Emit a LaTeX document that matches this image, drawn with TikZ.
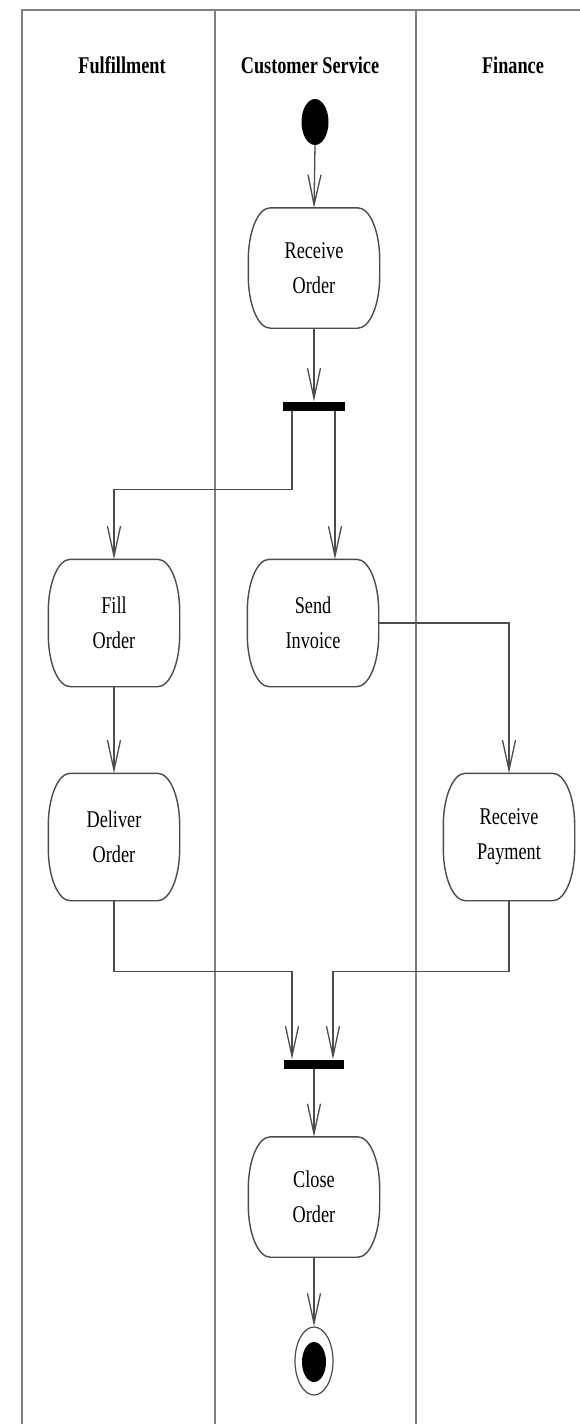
\documentclass[tikz,border=0pt]{standalone}
\usepackage{fontspec}
\setmainfont{Liberation Serif}[FakeStretch=0.76]
\usetikzlibrary{arrows.meta,shapes.geometric}
\tikzset{
  lane/.style={draw=black!50, line width=1.6pt},
  conn/.style={draw=black!70, line width=1.3pt, -{Straight Barb[length=30pt,width=13pt]}},
  outline/.style={draw=black!70, line width=1.4pt},
  actbox/.style={draw=none, minimum width=131pt, inner sep=0pt, align=center,
    font=\fontsize{24}{35}\selectfont},
  header/.style={anchor=base, font=\bfseries\fontsize{24}{26}\selectfont},
  bar/.style={fill=black, draw=none, minimum width=62pt, minimum height=9pt, inner sep=0pt},
}
\newcommand{\ActOutline}[1]{%
  \draw[outline] ([xshift=22pt]#1.north west) -- ([xshift=-22pt]#1.north east)
    arc[start angle=90, end angle=0, x radius=22pt, y radius=52pt]
    -- ([yshift=52pt]#1.south east)
    arc[start angle=0, end angle=-90, x radius=22pt, y radius=52pt]
    -- ([xshift=22pt]#1.south west)
    arc[start angle=270, end angle=180, x radius=22pt, y radius=52pt]
    -- ([yshift=-52pt]#1.north west)
    arc[start angle=180, end angle=90, x radius=22pt, y radius=52pt]
    -- cycle;}
\begin{document}
\begin{tikzpicture}[x=1pt, y=1pt]
\useasboundingbox (0,0) rectangle (580,-1424);
\fill[white] (0,0) rectangle (580,-1424);
% swimlane frame
\coordinate (tl) at (22,-10);
\coordinate (tr) at (580,-10);
\coordinate (bl) at (22,-1424);
\coordinate (l1t) at (215,-10);
\coordinate (l1b) at (215,-1424);
\coordinate (l2t) at (416,-10);
\coordinate (l2b) at (416,-1424);
\draw[lane] (bl) -- (tl) -- (tr);
\draw[lane] (l1t) -- (l1b);
\draw[lane] (l2t) -- (l2b);
% headers
\node[header] (h1) at (122,-73) {Fulfillment};
\node[header] (h2) at (310,-73) {Customer Service};
\node[header] (h3) at (513,-73) {Finance};
% initial node
\node[ellipse, fill=black, minimum width=27pt, minimum height=46pt, inner sep=0pt] (init) at (315,-122) {};
% activities
\node[actbox, minimum height=120pt] (ro) at (314,-268) {Receive\\Order};
\node[actbox, minimum height=127pt] (fo) at (114,-623) {Fill\\Order};
\node[actbox, minimum height=127pt] (si) at (313,-623) {Send\\Invoice};
\node[actbox, minimum height=127pt] (do) at (114,-837) {Deliver\\Order};
\node[actbox, minimum height=127pt] (rp) at (509,-837) {Receive\\Payment};
\node[actbox, minimum height=120pt] (co) at (314,-1197) {Close\\Order};
\ActOutline{ro}
\ActOutline{fo}
\ActOutline{si}
\ActOutline{do}
\ActOutline{rp}
\ActOutline{co}
% bars
\node[bar] (fork) at (314,-406) {};
\node[bar, minimum width=60pt] (join) at (314,-1064) {};
% final node
\node[ellipse, draw=black!70, line width=1.2pt, fill=white, minimum width=38pt, minimum height=68pt, inner sep=0pt] (final) at (314,-1361) {};
\node[ellipse, fill=black, minimum width=24pt, minimum height=40pt, inner sep=0pt] (finalin) at (314,-1362) {};
% connectors
\draw[conn] (init.south) -- (ro.north);
\draw[conn] (ro.south) -- (fork.north);
\draw[conn] ([xshift=-22pt]fork.south) -- ++(0,-79) -| (fo.north);
\draw[conn] ([xshift=21pt]fork.south) -- ([xshift=21pt]fork.south |- si.north);
\draw[conn] (si.east) -| (rp.north);
\draw[conn] (fo.south) -- (do.north);
\draw[conn] (do.south) -- ++(0,-71) -| ([xshift=-22pt]join.north);
\draw[conn] (rp.south) -- ++(0,-71) -| ([xshift=19pt]join.north);
\draw[conn] (join.south) -- (co.north);
\draw[conn] (co.south) -- (final.north);
\end{tikzpicture}
\end{document}
